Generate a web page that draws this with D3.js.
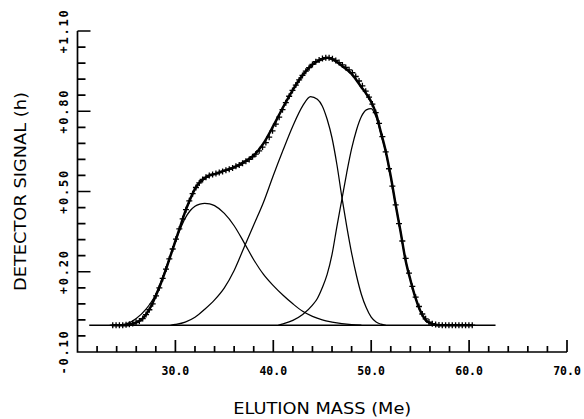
<!DOCTYPE html>
<html>
<head>
<meta charset="utf-8">
<script src="https://cdn.jsdelivr.net/npm/d3@7"></script>
<style>
  html, body { margin: 0; padding: 0; background: #fff; }
  svg { display: block; }
</style>
</head>
<body>
<svg id="chart" width="584" height="419"></svg>
<script>
// ---- data ----
// measured points (+ markers)
const markerStart = 23.6;
const markerStep = 0.34;
const markerSignal = [
  0, 0, 0, 0, 0.002, 0.004, 0.007, 0.011, 0.016, 0.025,
  0.04, 0.058, 0.08, 0.11, 0.14, 0.175, 0.21, 0.248, 0.285, 0.322,
  0.36, 0.398, 0.432, 0.465, 0.492, 0.515, 0.532, 0.545, 0.553, 0.56,
  0.564, 0.567, 0.571, 0.575, 0.579, 0.583, 0.588, 0.594, 0.599, 0.606,
  0.613, 0.62, 0.63, 0.64, 0.652, 0.666, 0.683, 0.703, 0.727, 0.752,
  0.778, 0.806, 0.832, 0.856, 0.878, 0.898, 0.917, 0.934, 0.95, 0.963,
  0.975, 0.985, 0.992, 0.997, 1.0, 1.0, 0.996, 0.99, 0.982, 0.973,
  0.964, 0.955, 0.944, 0.93, 0.913, 0.895, 0.875, 0.853, 0.827, 0.795,
  0.755, 0.705, 0.648, 0.585, 0.52, 0.45, 0.38, 0.315, 0.25, 0.195,
  0.145, 0.105, 0.07, 0.042, 0.024, 0.012, 0.006, 0.003, 0.001, 0,
  0, 0, 0, 0, 0, 0, 0, 0, 0
];

// fitted total (thick line)
const totalMass = [23.5, 25, 26, 26.5, 27, 27.5, 28, 28.5, 29, 29.5, 30, 30.5, 31, 31.5, 32, 32.5, 33, 33.5, 34, 35, 36, 37, 38, 39, 40, 41, 42, 43, 44, 45, 45.5, 46, 47, 48, 49, 49.5, 50, 50.5, 51, 51.5, 52, 52.5, 53, 53.5, 54, 54.5, 55, 55.5, 56, 56.5, 57, 60.4];
const totalSignal = [0, 0, 0.01, 0.02, 0.04, 0.07, 0.11, 0.155, 0.205, 0.26, 0.315, 0.37, 0.425, 0.47, 0.51, 0.535, 0.55, 0.56, 0.565, 0.578, 0.59, 0.61, 0.635, 0.68, 0.745, 0.815, 0.88, 0.935, 0.975, 0.995, 1.0, 0.995, 0.97, 0.94, 0.89, 0.865, 0.835, 0.79, 0.72, 0.648, 0.556, 0.45, 0.35, 0.245, 0.17, 0.105, 0.055, 0.022, 0.008, 0.002, 0, 0];

// component peaks (thin lines)
const comp1Mass = [24, 25, 26, 27, 27.5, 28, 28.5, 29, 29.5, 30, 30.5, 31, 31.5, 32, 32.5, 33, 33.5, 34, 35, 36, 37, 38, 39, 40, 41, 42, 43, 44, 45, 46, 47, 48, 49];
const comp1Signal = [0, 0.005, 0.025, 0.06, 0.085, 0.115, 0.16, 0.21, 0.262, 0.315, 0.36, 0.4, 0.428, 0.445, 0.453, 0.456, 0.454, 0.447, 0.418, 0.372, 0.31, 0.245, 0.19, 0.148, 0.112, 0.08, 0.052, 0.033, 0.02, 0.012, 0.006, 0.002, 0];

const comp2Mass = [29.5, 30, 31, 32, 33, 34, 35, 36, 37, 38, 39, 40, 41, 42, 43, 43.8, 44.5, 45, 45.5, 46, 46.5, 47, 47.5, 48, 48.5, 49, 49.5, 50, 50.5, 51, 51.5];
const comp2Signal = [0, 0.003, 0.012, 0.03, 0.06, 0.095, 0.14, 0.205, 0.29, 0.375, 0.46, 0.56, 0.655, 0.745, 0.82, 0.855, 0.845, 0.82, 0.77, 0.7, 0.6, 0.48, 0.37, 0.27, 0.185, 0.115, 0.065, 0.03, 0.012, 0.004, 0];

const comp3Mass = [40.5, 41, 42, 43, 44, 44.5, 45, 45.5, 46, 46.5, 47, 47.5, 48, 48.5, 49, 49.5, 50, 50.5, 51, 51.5, 52, 52.5, 53, 53.5, 54, 54.5, 55, 55.5, 56, 57];
const comp3Signal = [0, 0.005, 0.018, 0.04, 0.075, 0.1, 0.14, 0.19, 0.265, 0.37, 0.47, 0.57, 0.66, 0.73, 0.78, 0.805, 0.81, 0.778, 0.715, 0.645, 0.553, 0.45, 0.35, 0.245, 0.17, 0.105, 0.055, 0.022, 0.008, 0];

// zero baseline drawn by the plotter
const baselineMass = [21.2, 62.7];

// axes
const xMajorTicks = [30, 40, 50, 60, 70];
const yMajorTicks = [-0.1, 0.2, 0.5, 0.8, 1.1];
const xTitle = "ELUTION MASS (Me)";
const yTitle = "DETECTOR SIGNAL (h)";

// ---- layout ----
const svg = d3.select("#chart");
const plotLeft = 77.5, plotRight = 567, plotTop = 31, plotBottom = 352;

const x = d3.scaleLinear().domain([20, 70]).range([plotLeft, plotRight]);
const y = d3.scaleLinear().domain([-0.1, 1.1]).range([plotBottom, plotTop]);

const tickFont = "'DejaVu Sans Mono', monospace";
const titleFont = "'DejaVu Sans', sans-serif";

// minor tick positions (every 2 units / every 0.06)
const xMinorTicks = d3.range(22, 70, 2).filter(v => !xMajorTicks.includes(v));
const yMinorTicks = d3.range(-0.1, 1.1, 0.06)
    .filter(v => !yMajorTicks.some(m => Math.abs(m - v) < 1e-6));

// axis frame + ticks, as one plotter path
const x0 = x.range()[0], y0 = y.range()[0];
const yTickPath = yMinorTicks.map(v => `M${x0},${y(v)}h8`)
    .concat(yMajorTicks.map(v => `M${x0},${y(v)}h13`)).join("");
const xTickPath = xMinorTicks.map(v => `M${x(v)},${y0}v-6`)
    .concat(xMajorTicks.map(v => `M${x(v)},${y0}v-12`)).join("");

svg.append("path")
    .attr("fill", "none")
    .attr("stroke", "#000")
    .attr("stroke-width", 1.7)
    .attr("d", `M${x0},${y.range()[1]}V${y0}H${x.range()[1]}` + yTickPath + xTickPath);

// tick labels
svg.selectAll(".ylab")
    .data(yMajorTicks)
    .enter()
    .append("text")
    .attr("transform", d => `translate(${x0 - 14},${y(d)}) rotate(-90)`)
    .attr("dy", "0.35em")
    .attr("text-anchor", "middle")
    .style("font-family", tickFont)
    .style("font-weight", "bold")
    .style("font-size", "12px")
    .style("letter-spacing", "1.8px")
    .text(v => (v < 0 ? "-" : "+") + Math.abs(v).toFixed(2));

svg.selectAll(".xlab")
    .data(xMajorTicks)
    .enter()
    .append("text")
    .attr("x", d => x(d))
    .attr("y", y0 + 19)
    .attr("dy", "0.35em")
    .attr("text-anchor", "middle")
    .style("font-family", tickFont)
    .style("font-weight", "bold")
    .style("font-size", "11.5px")
    .text(d3.format(".1f"));

// axis titles
svg.append("text")
    .attr("x", (plotLeft + plotRight) / 2)
    .attr("y", 414)
    .attr("text-anchor", "middle")
    .attr("textLength", 178)
    .attr("lengthAdjust", "spacingAndGlyphs")
    .style("font-family", titleFont)
    .style("font-size", "16px")
    .text(xTitle);

svg.append("text")
    .attr("transform", `translate(26,${(plotTop + plotBottom) / 2}) rotate(-90)`)
    .attr("text-anchor", "middle")
    .attr("textLength", 199)
    .attr("lengthAdjust", "spacingAndGlyphs")
    .style("font-family", titleFont)
    .style("font-size", "16px")
    .text(yTitle);

// curves
const line = d3.line()
    .x(d => x(d[0]))
    .y(d => y(d[1]))
    .curve(d3.curveMonotoneX);

const plot = svg.append("g").attr("fill", "none").attr("stroke", "#000");

plot.append("path")
    .attr("d", line(baselineMass.map(m => [m, 0])))
    .attr("stroke-width", 1.6);

[[comp1Mass, comp1Signal], [comp2Mass, comp2Signal], [comp3Mass, comp3Signal]].forEach(([ms, ss]) => {
    plot.append("path")
        .attr("d", line(ms.map((m, i) => [m, ss[i]])))
        .attr("stroke-width", 1.25);
});

plot.append("path")
    .attr("d", line(totalMass.map((m, i) => [m, totalSignal[i]])))
    .attr("stroke-width", 2.5);

// + markers
const markers = markerSignal.map((s, i) => [markerStart + i * markerStep, s]);
plot.selectAll(".mark")
    .data(markers)
    .enter()
    .append("path")
    .attr("class", "mark")
    .attr("transform", d => `translate(${x(d[0])},${y(d[1])})`)
    .attr("d", "M-3,0H3M0,-3V3")
    .attr("stroke-width", 1.3);
</script>
</body>
</html>
